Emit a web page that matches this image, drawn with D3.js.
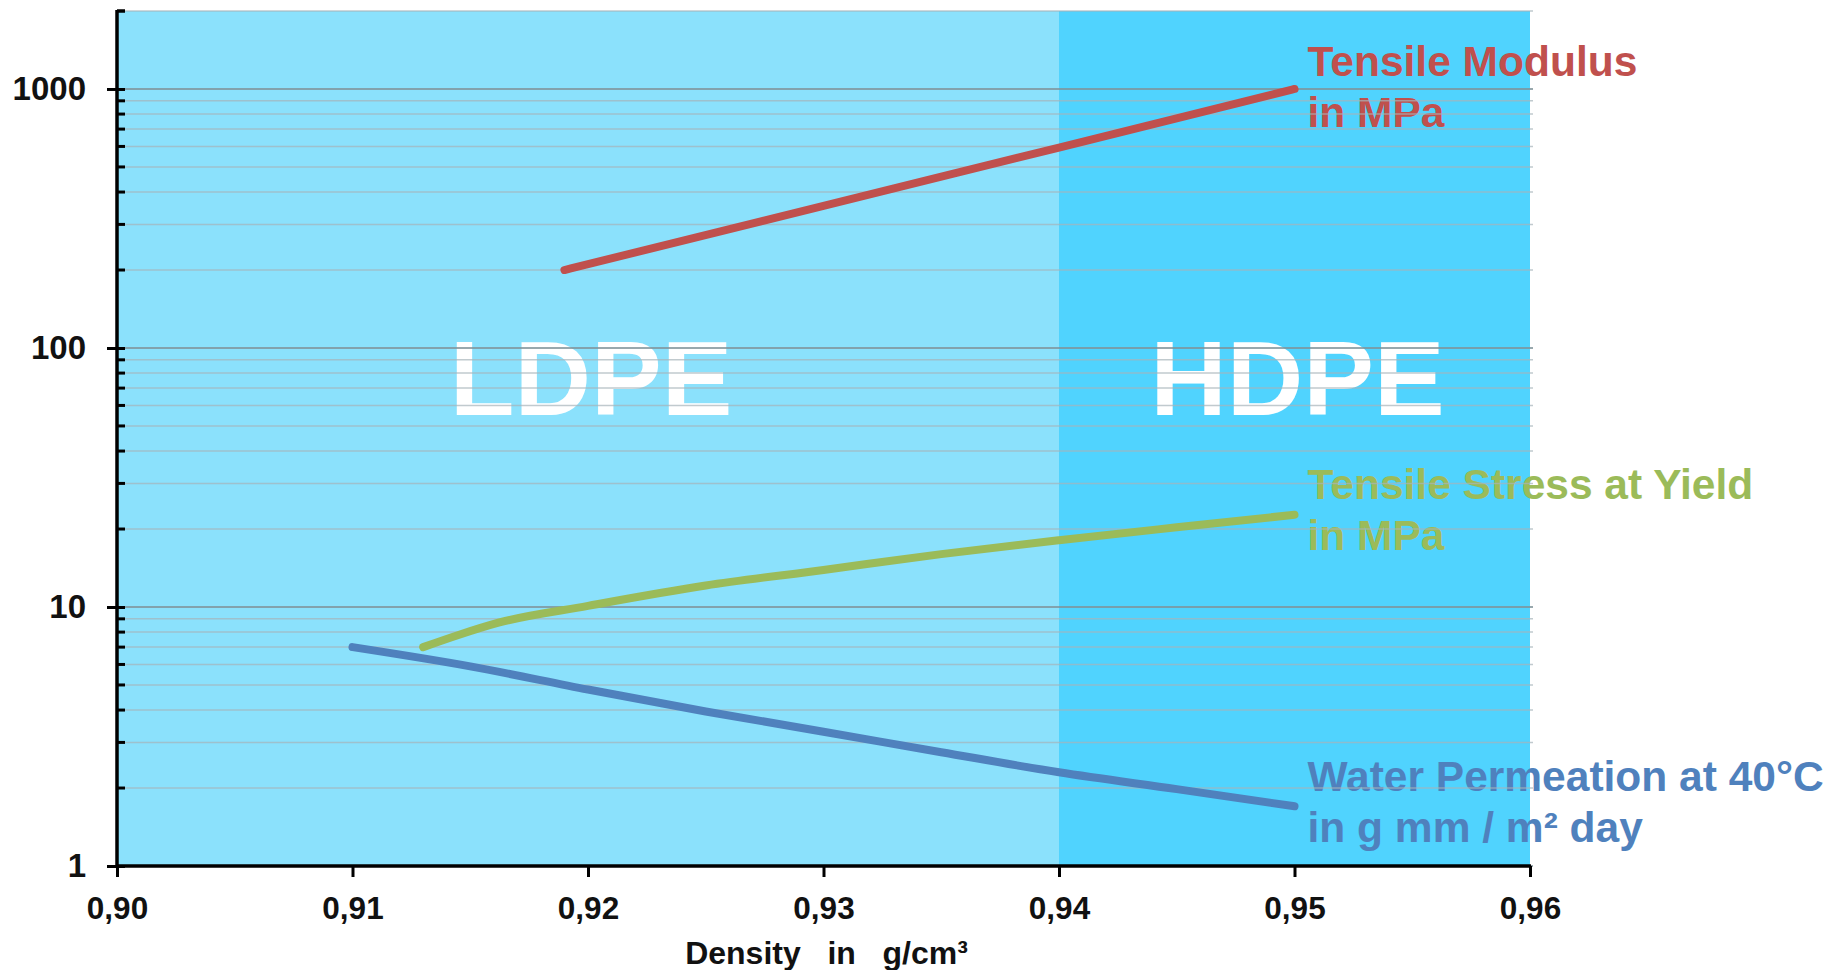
<!DOCTYPE html>
<html>
<head>
<meta charset="utf-8">
<script src="https://cdn.jsdelivr.net/npm/d3@7"></script>
<style>
  body { margin: 0; background: #fff; }
  svg text { font-family: "Liberation Sans", Arial, sans-serif; font-weight: bold; }
</style>
</head>
<body>
<div id="chart"></div>
<script>
// density in g/cm3
const xTicks = [0.90, 0.91, 0.92, 0.93, 0.94, 0.95, 0.96];
const yTicks = [1, 10, 100, 1000];

const modulusDensity = [0.919, 0.93, 0.94, 0.95];
const modulusValues  = [200, 354, 594, 1000];

const yieldDensity = [0.913, 0.9145, 0.9162, 0.92, 0.925, 0.93, 0.935, 0.94, 0.945, 0.95];
const yieldValues  = [7.0, 7.8, 8.7, 10.1, 12.1, 13.9, 16.0, 18.1, 20.3, 22.7];

const permDensity = [0.91, 0.915, 0.92, 0.925, 0.93, 0.935, 0.94, 0.945, 0.95];
const permValues  = [7.0, 5.9, 4.8, 3.95, 3.3, 2.75, 2.3, 1.98, 1.7];

const regions = [
  {name: "LDPE", from: 0.90, to: 0.94, mid: 0.92, color: "#8be1fc"},
  {name: "HDPE", from: 0.94, to: 0.96, mid: 0.95, color: "#50d3fe"}
];

const series = [
  {label: ["Tensile Modulus", "in MPa"], color: "#c0504d", xs: modulusDensity, ys: modulusValues, off: 13},
  {label: ["Tensile Stress at Yield", "in MPa"], color: "#9bbb59", xs: yieldDensity, ys: yieldValues, off: 16},
  {label: ["Water Permeation at 40°C", "in g mm / m² day"], color: "#4f81bd", xs: permDensity, ys: permValues, off: 15}
];

const width = 1831, height = 970;
const margin = {top: 11, right: 301, bottom: 104, left: 117};
const w = width - margin.left - margin.right;
const h = height - margin.top - margin.bottom;

const x = d3.scaleLinear().domain([0.90, 0.96]).range([0, w]);
const y = d3.scaleLog().domain([1, 2000]).range([h, 0]);

const svg = d3.select("#chart").append("svg")
  .attr("width", width).attr("height", height);
const g = svg.append("g").attr("transform", `translate(${margin.left},${margin.top})`);

// background bands
g.selectAll("rect.band").data(regions).enter().append("rect")
  .attr("class", "band")
  .attr("x", d => x(d.from))
  .attr("width", d => x(d.to) - x(d.from))
  .attr("y", 0).attr("height", h)
  .attr("fill", d => d.color);

// big region names
g.selectAll("text.region").data(regions).enter().append("text")
  .attr("class", "region")
  .attr("x", d => x(d.mid) + 3)
  .attr("y", y(55))
  .attr("text-anchor", "middle")
  .attr("fill", "#fff")
  .style("font-size", "106px")
  .text(d => d.name);

// series labels
series.forEach(s => {
  const last = s.ys[s.ys.length - 1];
  const t = g.append("text")
    .attr("x", x(0.95) + 13)
    .attr("y", y(last) - s.off)
    .attr("fill", s.color)
    .style("font-size", "42.5px");
  s.label.forEach((line, i) => {
    t.append("tspan")
      .attr("x", x(0.95) + 13)
      .attr("dy", i === 0 ? 0 : 51)
      .text(line);
  });
});

// grid lines (every 1..9 per decade + top)
const minor = [];
[1, 10, 100, 1000].forEach(p => {
  for (let k = 1; k <= 9; k++) { if (k * p <= 2000) minor.push(k * p); }
});
g.append("g").attr("class", "grid")
  .selectAll("line").data(minor).enter().append("line")
  .attr("x1", 0).attr("x2", w + 3)
  .attr("y1", d => y(d)).attr("y2", d => y(d))
  .attr("stroke", d => yTicks.includes(d) ? "#7f9299" : "#a7b4b9")
  .attr("stroke-opacity", d => yTicks.includes(d) ? 0.8 : 0.7)
  .attr("stroke-width", d => yTicks.includes(d) ? 2 : 1.5);

// data lines
const line = d3.line()
  .x(d => x(d[0]))
  .y(d => y(d[1]))
  .curve(d3.curveMonotoneX);

g.selectAll("path.data").data(series).enter().append("path")
  .attr("class", "data")
  .attr("d", s => line(s.xs.map((v, i) => [v, s.ys[i]])))
  .attr("fill", "none")
  .attr("stroke", s => s.color)
  .attr("stroke-width", 8)
  .attr("stroke-linecap", "round");

// minor ticks on y axis (inside)
g.append("g").selectAll("line").data(minor.filter(d => !yTicks.includes(d))).enter()
  .append("line")
  .attr("x1", 0).attr("x2", 8)
  .attr("y1", d => y(d)).attr("y2", d => y(d))
  .attr("stroke", "#000").attr("stroke-width", 3);

// axes
const fmt = d => d.toFixed(2).replace(".", ",");
const xAxis = g.append("g")
  .attr("transform", `translate(0,${h})`)
  .call(d3.axisBottom(x).tickValues(xTicks).tickFormat(fmt).tickSize(11).tickPadding(20).tickSizeOuter(0));
const yAxis = g.append("g")
  .call(d3.axisLeft(y).tickValues(yTicks).tickFormat(d3.format("d")).tickSize(10).tickPadding(21).tickSizeOuter(0));

[xAxis, yAxis].forEach(a => {
  a.select(".domain").attr("stroke", "#000").attr("stroke-width", 3.5);
  a.selectAll(".tick line").attr("stroke", "#000").attr("stroke-width", 3);
  a.selectAll(".tick text").attr("fill", "#111")
    .style("font-family", "'Liberation Sans', Arial, sans-serif").style("font-weight", "bold");
});
xAxis.selectAll(".tick text").style("font-size", "31.5px");
yAxis.selectAll(".tick text").style("font-size", "33px");
// major y ticks also cross into plot
yAxis.selectAll(".tick line").attr("x2", 8).attr("x1", -10);
yAxis.select(".domain").attr("d", `M0,-1V${h + 1}`);
xAxis.select(".domain").attr("d", `M-1,0H${w + 1}`);
// top tick
g.append("line").attr("x1", 0).attr("x2", 8).attr("y1", 0).attr("y2", 0)
  .attr("stroke", "#000").attr("stroke-width", 3);

// axis title
g.append("text")
  .attr("x", w / 2 + 3)
  .attr("y", h + 98)
  .attr("text-anchor", "middle")
  .attr("fill", "#111")
  .style("font-size", "32px")
  .style("white-space", "pre")
  .text("Density   in   g/cm³");
</script>
</body>
</html>
